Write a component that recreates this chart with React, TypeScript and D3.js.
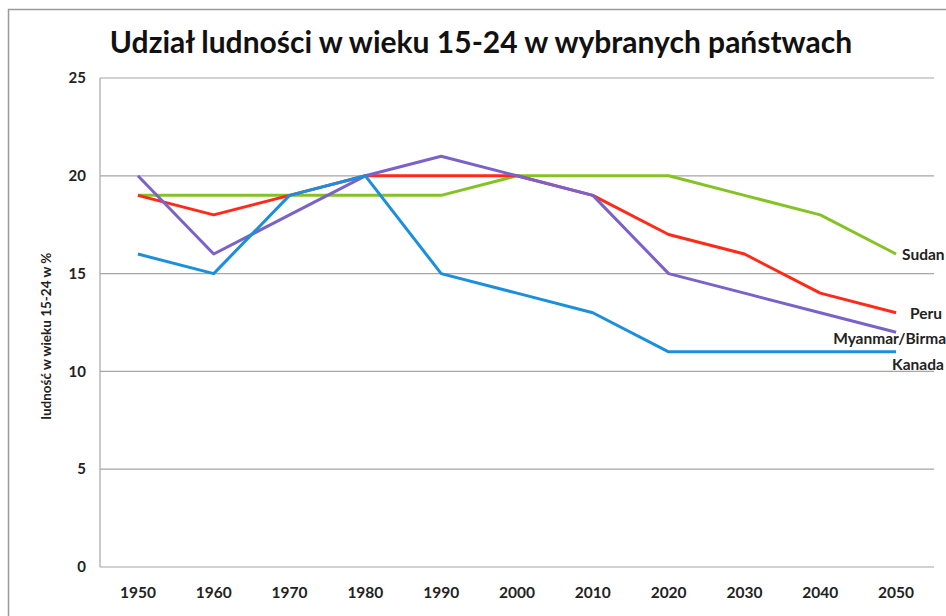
import React from "react";
import * as d3 from "d3";

const years = ["1950", "1960", "1970", "1980", "1990", "2000", "2010", "2020", "2030", "2040", "2050"];
const sudan = [19, 19, 19, 19, 19, 20, 20, 20, 19, 18, 16];
const peru = [19, 18, 19, 20, 20, 20, 19, 17, 16, 14, 13];
const myanmar = [20, 16, 18, 20, 21, 20, 19, 15, 14, 13, 12];
const kanada = [16, 15, 19, 20, 15, 14, 13, 11, 11, 11, 11];
const yTicks = [0, 5, 10, 15, 20, 25];

const seriesNames = ["Sudan", "Peru", "Myanmar/Birma", "Kanada"];
const seriesValues = [sudan, peru, myanmar, kanada];
const seriesColors = ["#84c225", "#ff2a17", "#7b62c9", "#1b8fdc"];
const labelOffsets = [
  { dx: 6, dy: 1, anchor: "start" },
  { dx: 14, dy: 1, anchor: "start" },
  { dx: 50, dy: 6, anchor: "end" },
  { dx: -4, dy: 13, anchor: "start" },
];

export default function App() {
  const W = 946, H = 616;
  const left = 100, right = 934, top = 78, bottom = 567;
  const x = d3.scaleBand<string>().domain(years).range([left, right]);
  const y = d3.scaleLinear().domain([0, 25]).range([bottom, top]);
  const cx = (yr: string) => (x(yr) as number) + x.bandwidth() / 2;
  const line = d3
    .line<number>()
    .x((_, i) => cx(years[i]))
    .y((v) => y(v));
  const font = "Lato, 'Open Sans', sans-serif";

  return (
    <div style={{ position: "absolute", left: 0, top: 0 }}>
      <svg width={W} height={H} style={{ display: "block", background: "#fff" }}>
        <rect x={8.5} y={9.5} width={W + 10} height={H + 10} fill="none" stroke="#9a9a9a" strokeWidth={1.5} />
        <text
          x={481}
          y={53}
          textAnchor="middle"
          fontFamily={font}
          fontWeight={700}
          fontSize={30}
          fill="#111"
        >
          Udział ludności w wieku 15-24 w wybranych państwach
        </text>
        {yTicks.map((t) => (
          <g key={t}>
            {t > 0 && (
              <line x1={left} x2={right} y1={y(t)} y2={y(t)} stroke="#a6a6a6" strokeWidth={1.2} />
            )}
            <text
              x={86}
              y={y(t)}
              dy="0.35em"
              textAnchor="end"
              fontFamily={font}
              fontWeight={700}
              fontSize={15}
              fill="#222"
            >
              {t}
            </text>
          </g>
        ))}
        <line x1={left} x2={left} y1={top} y2={bottom} stroke="#a6a6a6" strokeWidth={1.2} />
        <line x1={left} x2={right} y1={bottom} y2={bottom} stroke="#a6a6a6" strokeWidth={1.2} />
        {years.map((yr) => (
          <text
            key={yr}
            x={cx(yr)}
            y={593}
            dy="0.35em"
            textAnchor="middle"
            fontFamily={font}
            fontWeight={700}
            fontSize={15.5}
            fill="#222"
          >
            {yr}
          </text>
        ))}
        <text
          transform={`translate(46,336) rotate(-90)`}
          textAnchor="middle"
          dy="0.35em"
          fontFamily={font}
          fontWeight={700}
          fontSize={13.5}
          fill="#222"
        >
          ludność w wieku 15-24 w %
        </text>
        {seriesValues.map((vals, i) => (
          <path
            key={seriesNames[i]}
            d={line(vals) as string}
            fill="none"
            stroke={seriesColors[i]}
            strokeWidth={3}
            strokeLinejoin="round"
          />
        ))}
        {seriesValues.map((vals, i) => {
          const last = vals[vals.length - 1];
          const o = labelOffsets[i];
          return (
            <text
              key={"l" + i}
              x={cx(years[years.length - 1]) + o.dx}
              y={y(last) + o.dy}
              dy="0.35em"
              textAnchor={o.anchor as any}
              fontFamily={font}
              fontWeight={700}
              fontSize={15.5}
              fill="#222"
            >
              {seriesNames[i]}
            </text>
          );
        })}
      </svg>
    </div>
  );
}
